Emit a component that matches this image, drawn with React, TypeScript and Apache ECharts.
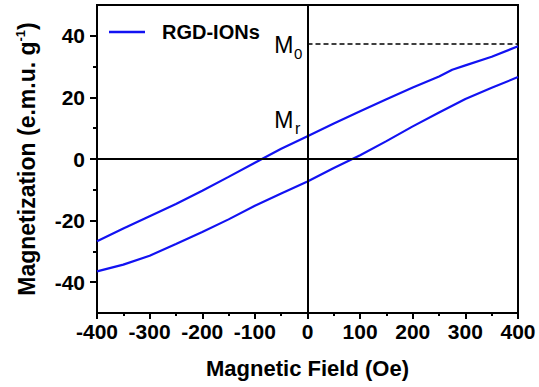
import React, { useEffect, useRef } from "react";
import * as echarts from "echarts";

// Descending branch (field swept from +400 to -400 Oe)
const fieldDown = [400, 350, 300, 275, 250, 200, 150, 100, 50, 0, -50, -100, -150, -200, -250, -300, -350, -400];
const magDown = [36.6, 33.2, 30.4, 29.0, 26.8, 23.2, 19.4, 15.5, 11.5, 7.4, 3.3, -1.2, -5.8, -10.3, -14.6, -18.6, -22.6, -26.7];
// Ascending branch (field swept from -400 to +400 Oe)
const fieldUp = [-400, -350, -300, -250, -200, -150, -100, -50, 0, 50, 100, 150, 200, 250, 300, 350, 400];
const magUp = [-36.5, -34.3, -31.4, -27.6, -23.7, -19.6, -15.2, -11.2, -7.3, -2.9, 1.2, 5.8, 10.6, 15.1, 19.5, 23.1, 26.6];

const seriesName = "RGD-IONs";
const m0Value = 37.3;
const yMajor = [-40, -20, 0, 20, 40];
const yMinor = [-30, -10, 10, 30];

const FONT = "'Liberation Sans', Arial, sans-serif";
const BLUE = "#1212f2";

export default function App() {
  const ref = useRef<HTMLDivElement>(null);
  useEffect(() => {
    if (!ref.current) return;
    const chart = echarts.init(ref.current, null, { renderer: "svg" });
    const down = fieldDown.map((f, i) => [f, magDown[i]]);
    const up = fieldUp.map((f, i) => [f, magUp[i]]);

    const axisLine = { show: true, onZero: false, lineStyle: { color: "#000", width: 2 } };
    const lineSeries = (data: number[][], extra: any = {}) => ({
      name: seriesName,
      type: "line",
      data,
      symbol: "none",
      showSymbol: false,
      lineStyle: { color: BLUE, width: 2.2 },
      itemStyle: { color: BLUE },
      ...extra,
    });
    chart.setOption({
      animation: false,
      backgroundColor: "#fff",
      grid: {
        left: 97,
        right: 21,
        top: 5,
        bottom: 74,
        show: true,
        borderColor: "#000",
        borderWidth: 2,
        outerBoundsMode: "none",
      },
      legend: {
        show: true,
        left: 104,
        top: 17,
        itemWidth: 36,
        itemHeight: 2.5,
        data: [{ name: seriesName, icon: "rect" }],
        itemStyle: { color: BLUE },
        textStyle: {
          color: "#000",
          fontWeight: "bold",
          fontSize: 20,
          fontFamily: FONT,
          padding: [0, 0, 0, 12],
        },
      },
      xAxis: {
        type: "value",
        min: -400,
        max: 400,
        interval: 100,
        axisLine,
        axisTick: { show: true, inside: false, length: 6, lineStyle: { color: "#000", width: 2 } },
        minorTick: { show: true, splitNumber: 2, length: 3, lineStyle: { color: "#000", width: 2 } },
        splitLine: { show: false },
        axisLabel: {
          color: "#000",
          fontWeight: "bold",
          fontSize: 21,
          fontFamily: FONT,
          margin: 8,
        },
        name: "Magnetic Field (Oe)",
        nameLocation: "middle",
        nameGap: 44,
        nameTextStyle: { color: "#000", fontWeight: "bold", fontSize: 22, fontFamily: FONT },
      },
      yAxis: [
        {
          type: "value",
          min: -50,
          max: 50,
          position: "left",
          axisLine,
          axisTick: {
            show: true,
            inside: false,
            length: 7,
            customValues: yMajor,
            lineStyle: { color: "#000", width: 2 },
          },
          splitLine: { show: false },
          axisLabel: {
            customValues: yMajor,
            color: "#000",
            fontWeight: "bold",
            fontSize: 21,
            fontFamily: FONT,
            margin: 12,
          },
          name: "{a|Magnetization (e.m.u. g}{s|-1}{a|)}",
          nameLocation: "middle",
          nameGap: 58,
          nameTextStyle: {
            color: "#000",
            rich: {
              a: { fontWeight: "bold", fontSize: 23, fontFamily: FONT, color: "#000" },
              s: { fontWeight: "bold", fontSize: 13, fontFamily: FONT, color: "#000", padding: [0, 0, 12, 0] },
            },
          },
        },
        {
          type: "value",
          min: -50,
          max: 50,
          position: "left",
          axisLine: { show: false, onZero: false },
          axisTick: {
            show: true,
            inside: false,
            length: 4,
            customValues: yMinor,
            lineStyle: { color: "#000", width: 2 },
          },
          splitLine: { show: false },
          axisLabel: { show: false },
        },
      ],
      series: [
        lineSeries(down, {
          markLine: {
            silent: true,
            symbol: ["none", "none"],
            label: { show: false },
            lineStyle: { color: "#000", width: 2, type: "solid" },
            data: [
              { xAxis: 0 },
              { yAxis: 0 },
              [
                { coord: [0, m0Value], lineStyle: { color: "#000", width: 1.5, type: [5, 3] } },
                { coord: [400, m0Value] },
              ],
            ],
          },
        }),
        lineSeries(up),
      ],
      graphic: [
        { type: "text", x: 293.5, y: 44.5, style: { text: "M", font: `23px ${FONT}`, fill: "#000", align: "right", verticalAlign: "middle" } },
        { type: "text", x: 294, y: 53, style: { text: "0", font: `15px ${FONT}`, fill: "#000", align: "left", verticalAlign: "middle" } },
        { type: "text", x: 293.5, y: 120, style: { text: "M", font: `23px ${FONT}`, fill: "#000", align: "right", verticalAlign: "middle" } },
        { type: "text", x: 295, y: 128, style: { text: "r", font: `16px ${FONT}`, fill: "#000", align: "left", verticalAlign: "middle" } },
      ],
    });
    return () => chart.dispose();
  }, []);
  return (
    <div
      ref={ref}
      style={{ position: "fixed", left: 0, top: 0, width: 539, height: 387, background: "#fff" }}
    />
  );
}
